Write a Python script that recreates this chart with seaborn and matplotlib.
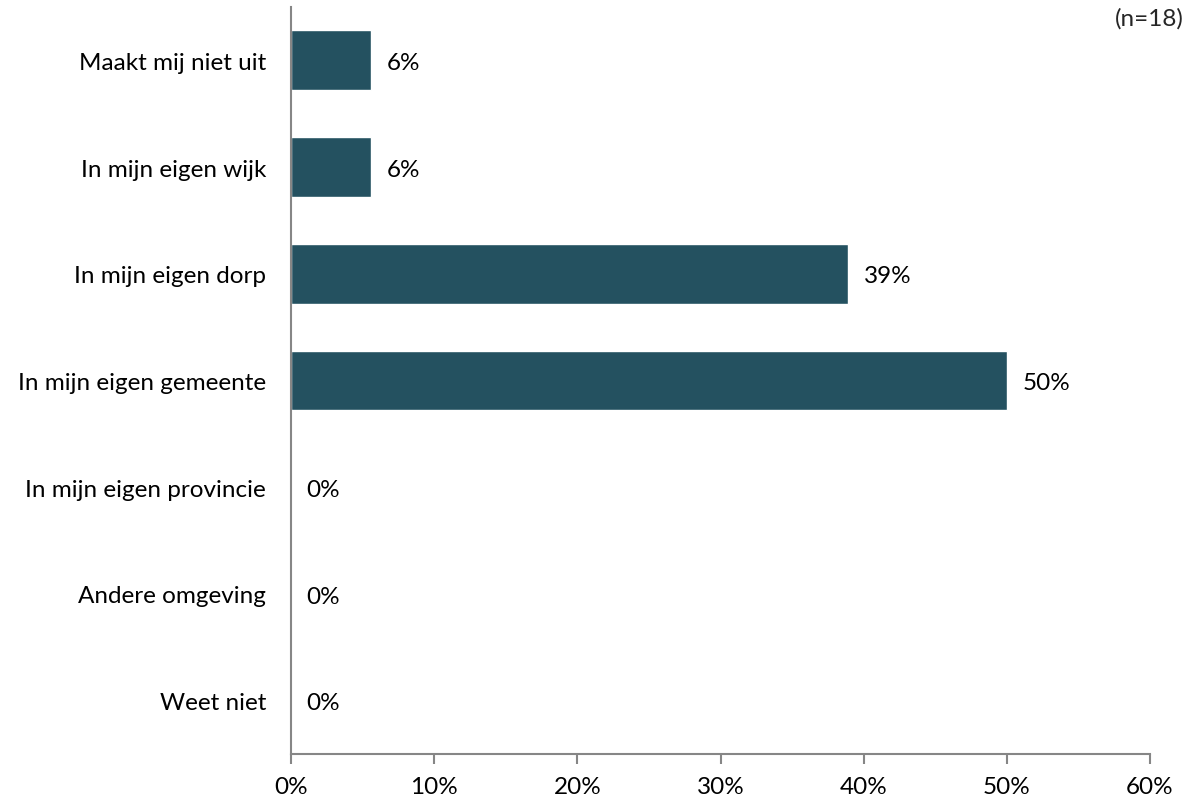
import matplotlib
matplotlib.use("Agg")
import matplotlib.pyplot as plt
import seaborn as sns
import pandas as pd

categories = [
    "Maakt mij niet uit",
    "In mijn eigen wijk",
    "In mijn eigen dorp",
    "In mijn eigen gemeente",
    "In mijn eigen provincie",
    "Andere omgeving",
    "Weet niet",
]
values = [5.56, 5.56, 38.89, 50.0, 0.0, 0.0, 0.0]
labels = ["6%", "6%", "39%", "50%", "0%", "0%", "0%"]
xticks = [0, 10, 20, 30, 40, 50, 60]

sns.set_theme(style="white")
plt.rcParams["font.family"] = ["Lato", "DejaVu Sans"]

df = pd.DataFrame({"cat": categories, "val": values})
fs = 17.5

fig = plt.figure(figsize=(11.92, 8.03), dpi=100)
ax = fig.add_axes([291 / 1192, 48 / 803, 859 / 1192, 747 / 803])

sns.barplot(data=df, x="val", y="cat", color="#245160", saturation=1,
            width=0.56, ax=ax)

for i, (v, t) in enumerate(zip(values, labels)):
    ax.text(v + 1.1, i + 0.02, t, va="center", ha="left", fontsize=fs, color="black")

ax.set_xlim(0, 60)
ax.set_xticks(xticks)
ax.set_xticklabels([f"{x}%" for x in xticks], fontsize=fs)
ax.tick_params(axis="y", labelsize=fs, length=0, pad=18, labelcolor="black")
ax.tick_params(axis="x", length=7, width=1.5, color="#868686", pad=9,
               direction="out", bottom=True, labelcolor="black")
ax.set_xlabel("")
ax.set_ylabel("")

for side in ["top", "right"]:
    ax.spines[side].set_visible(False)
for side in ["left", "bottom"]:
    ax.spines[side].set_color("#868686")
    ax.spines[side].set_linewidth(1.5)

fig.text(1184 / 1192, 0.99, "(n=18)", ha="right", va="top", fontsize=fs)

fig.savefig("out.png", dpi=100)
